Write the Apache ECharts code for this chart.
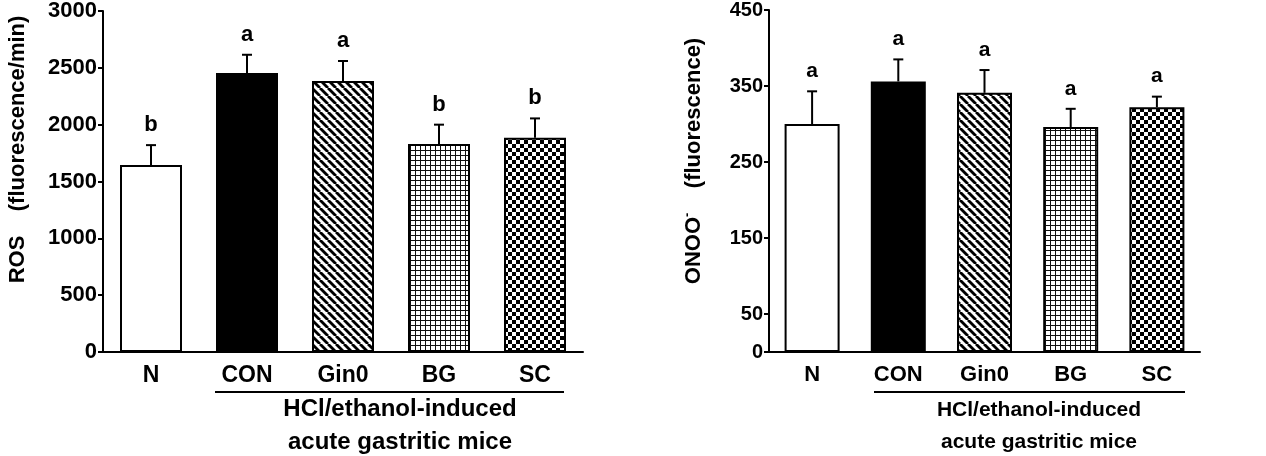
<!DOCTYPE html>
<html>
<head>
<meta charset="utf-8">
<title></title>
    <style>
        * {
            margin: 0;
            padding: 0;
        }
        body {
            background: #fff;
        }
        #main {
            width: 1266px;
            height: 456px;
        }
    </style>
</head>
<body>
<div id="main"></div>
<script src="https://cdn.jsdelivr.net/npm/echarts@6/dist/echarts.min.js"></script>
<script>
    // data
    var groups = ['N', 'CON', 'Gin0', 'BG', 'SC'];
    var rosMean = [1645, 2455, 2385, 1830, 1885];
    var rosErr = [175, 160, 175, 170, 170];
    var rosLetters = ['b', 'a', 'a', 'b', 'b'];
    var onooMean = [300, 356, 341, 296, 322];
    var onooErr = [43, 29, 30, 24, 14];
    var onooLetters = ['a', 'a', 'a', 'a', 'a'];
    var onooTicks = [0, 50, 150, 250, 350, 450];

    var FONT = '"Liberation Sans", Arial, sans-serif';

    // fill patterns for the bars
    function makePattern(kind) {
        var c = document.createElement('canvas');
        var s = kind === 'grid' ? 5 : 8;
        c.width = s;
        c.height = s;
        var ctx = c.getContext('2d');
        ctx.fillStyle = '#fff';
        ctx.fillRect(0, 0, s, s);
        ctx.fillStyle = '#000';
        ctx.strokeStyle = '#000';
        if (kind === 'diag') {
            ctx.lineWidth = 2.8;
            for (var k = -s; k <= s; k += s) {
                ctx.beginPath();
                ctx.moveTo(k, 0);
                ctx.lineTo(k + s, s);
                ctx.stroke();
            }
        } else if (kind === 'grid') {
            ctx.fillStyle = '#111';
            ctx.fillRect(0, 0, s, 1);
            ctx.fillRect(0, 0, 1, s);
        } else if (kind === 'check') {
            ctx.fillRect(0, 0, 4, 4);
            ctx.fillRect(4, 4, 4, 4);
        }
        return {image: c, repeat: 'repeat'};
    }
    var fills = ['#fff', '#000', makePattern('diag'), makePattern('grid'), makePattern('check')];

    function barData(vals) {
        return vals.map(function (v, i) {
            return {value: v, itemStyle: {color: fills[i]}};
        });
    }
    function errData(vals, errs) {
        return vals.map(function (v, i) {
            return [i, v, errs[i]];
        });
    }
    function errRenderer(letters, fontSize) {
        return function (params, api) {
            var x = api.value(0), v = api.value(1), e = api.value(2);
            var p0 = api.coord([x, v]);
            var p1 = api.coord([x, v + e]);
            return {
                type: 'group',
                children: [
                    {type: 'line', shape: {x1: p0[0], y1: p0[1], x2: p1[0], y2: p1[1]}, style: {stroke: '#000', lineWidth: 2}},
                    {type: 'line', shape: {x1: p1[0] - 5, y1: p1[1], x2: p1[0] + 5, y2: p1[1]}, style: {stroke: '#000', lineWidth: 2}},
                    {type: 'text', x: p1[0], y: p1[1] - 20, style: {
                        text: letters[params.dataIndex], fill: '#000', font: 'bold ' + fontSize + 'px ' + FONT,
                        align: 'center', verticalAlign: 'middle'
                    }}
                ]
            };
        };
    }
    function plain(v) {
        return String(v);
    }

    var myChart = echarts.init(document.getElementById('main'));
    var option = {
        animation: false,
        grid: [
            {left: 103, right: 683, top: 10, bottom: 104},
            {left: 769, right: 66, top: 10, bottom: 104}
        ],
        xAxis: [
            {
                type: 'category', gridIndex: 0, data: groups,
                axisLine: {lineStyle: {color: '#000', width: 2}},
                axisTick: {show: false},
                axisLabel: {color: '#000', fontFamily: FONT, fontWeight: 'bold', fontSize: 23, margin: 12}
            },
            {
                type: 'category', gridIndex: 1, data: groups,
                axisLine: {lineStyle: {color: '#000', width: 2}},
                axisTick: {show: false},
                axisLabel: {color: '#000', fontFamily: FONT, fontWeight: 'bold', fontSize: 22, margin: 12}
            }
        ],
        yAxis: [
            {
                type: 'value', gridIndex: 0, min: 0, max: 3000, interval: 500,
                name: 'ROS    (fluorescence/min)',
                nameLocation: 'middle', nameRotate: 90, nameGap: 74,
                nameTextStyle: {color: '#000', fontFamily: FONT, fontWeight: 'bold', fontSize: 22, padding: [0, 0, 0, 64]},
                axisLine: {show: true, lineStyle: {color: '#000', width: 2}},
                axisTick: {show: true, length: 5, lineStyle: {color: '#000', width: 2}},
                axisLabel: {color: '#000', fontFamily: FONT, fontWeight: 'bold', fontSize: 22, margin: 6, formatter: plain},
                splitLine: {show: false}
            },
            {
                type: 'value', gridIndex: 1, min: 0, max: 450, interval: 50,
                name: '{t|ONOO}{s|-}{t|    (fluorescence)}',
                nameLocation: 'middle', nameRotate: 90, nameGap: 62,
                nameTextStyle: {
                    color: '#000', fontFamily: FONT, fontWeight: 'bold', fontSize: 22, padding: [0, 0, 0, 40],
                    rich: {
                        t: {color: '#000', fontFamily: FONT, fontWeight: 'bold', fontSize: 22},
                        s: {color: '#000', fontFamily: FONT, fontWeight: 'bold', fontSize: 13, padding: [0, 0, 13, 0]}
                    }
                },
                axisLine: {show: true, lineStyle: {color: '#000', width: 2}},
                axisTick: {show: true, length: 5, customValues: onooTicks, lineStyle: {color: '#000', width: 2}},
                axisLabel: {color: '#000', fontFamily: FONT, fontWeight: 'bold', fontSize: 20, margin: 6, customValues: onooTicks, formatter: plain},
                splitLine: {show: false}
            }
        ],
        series: [
            {
                type: 'bar', xAxisIndex: 0, yAxisIndex: 0, barWidth: 62,
                data: barData(rosMean),
                itemStyle: {borderColor: '#000', borderWidth: 2}
            },
            {
                type: 'custom', xAxisIndex: 0, yAxisIndex: 0, z: 5,
                data: errData(rosMean, rosErr),
                encode: {x: 0, y: 1},
                renderItem: errRenderer(rosLetters, 22)
            },
            {
                type: 'bar', xAxisIndex: 1, yAxisIndex: 1, barWidth: 55,
                data: barData(onooMean),
                itemStyle: {borderColor: '#000', borderWidth: 2}
            },
            {
                type: 'custom', xAxisIndex: 1, yAxisIndex: 1, z: 5,
                data: errData(onooMean, onooErr),
                encode: {x: 0, y: 1},
                renderItem: errRenderer(onooLetters, 21)
            }
        ],
        graphic: [
            {type: 'line', shape: {x1: 215, y1: 392, x2: 564, y2: 392}, style: {stroke: '#000', lineWidth: 2}},
            {type: 'text', x: 400, y: 426, style: {
                text: 'HCl/ethanol-induced\nacute gastritic mice', fill: '#000', font: 'bold 24px ' + FONT,
                align: 'center', verticalAlign: 'middle', lineHeight: 33
            }},
            {type: 'line', shape: {x1: 874, y1: 392, x2: 1185, y2: 392}, style: {stroke: '#000', lineWidth: 2}},
            {type: 'text', x: 1039, y: 426, style: {
                text: 'HCl/ethanol-induced\nacute gastritic mice', fill: '#000', font: 'bold 21px ' + FONT,
                align: 'center', verticalAlign: 'middle', lineHeight: 32
            }}
        ]
    };
    myChart.setOption(option);
</script>
</body>
</html>
